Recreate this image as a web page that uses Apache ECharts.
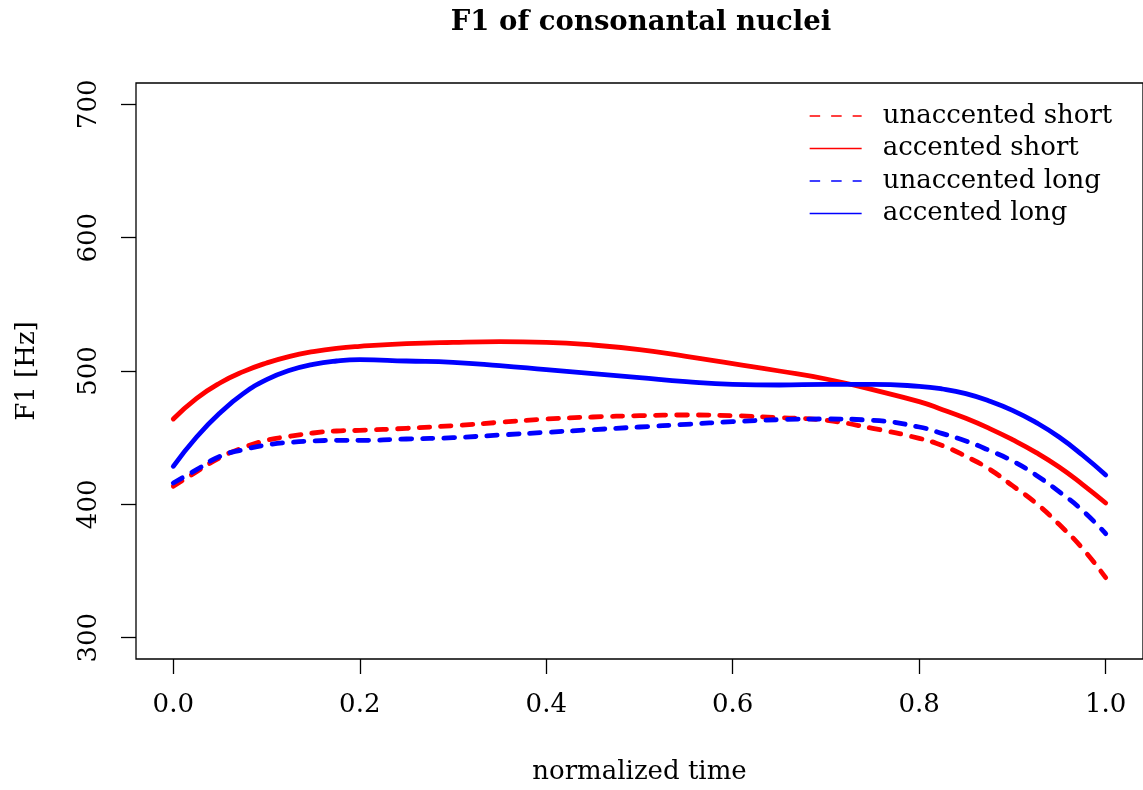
<!DOCTYPE html>
<html>
<head>
<meta charset="utf-8">
<script src="https://cdn.jsdelivr.net/npm/echarts@6/dist/echarts.min.js"></script>
<style>
  html, body { margin: 0; padding: 0; background: #fff; }
  #chart { width: 1143px; height: 790px; }
</style>
</head>
<body>
<div id="chart"></div>
<script>
// Normalized time points at which the smoothed F1 tracks are sampled
// (denser near the onset and offset, where the tracks bend most)
const timePoints = [0, 0.025, 0.05, 0.075, 0.1, 0.125, 0.15, 0.175, 0.2,
                    0.25, 0.3, 0.35, 0.4, 0.45, 0.5, 0.55, 0.6, 0.65, 0.7,
                    0.75, 0.8, 0.825, 0.85, 0.875, 0.9, 0.925, 0.95, 0.975, 1.0];

// F1 (Hz) per condition
const unaccentedShort = [413.5, 424.5, 435, 442.5, 448, 451, 453.5, 455, 455.5,
                         457, 459, 461.5, 464, 465.5, 466.5, 467, 466.5, 465, 463,
                         457, 449.5, 444, 436, 426.5, 414, 401, 385, 367, 345];
const accentedShort   = [464, 479.5, 491, 499.5, 506, 511, 514.5, 517, 518.5,
                         520.5, 521.5, 522, 521.5, 519.5, 516, 511, 505.5, 500, 494,
                         486, 477, 471, 464.5, 457, 448.5, 439, 428, 415, 401];
const unaccentedLong  = [416, 426, 436, 441, 444.5, 446.5, 447.5, 448, 448,
                         449, 450, 452, 454, 456, 458, 460, 462, 463.5, 464,
                         463, 458, 453, 447.5, 440.5, 432.5, 422, 409.5, 395.5, 378];
const accentedLong    = [428.5, 450.5, 468.5, 483, 493.5, 500.5, 505, 507.5, 508.5,
                         507.5, 506.5, 504, 501, 498, 495, 492, 490, 489.5, 490,
                         490, 488.5, 486.5, 483, 477.5, 470.5, 461.5, 450.5, 437, 422];

// Axis tick positions
const xTicks = [0, 0.2, 0.4, 0.6, 0.8, 1.0];
const yTicks = [300, 400, 500, 600, 700];

const FONT = 'DejaVu Serif';
const RED = '#ff0000';
const BLUE = '#0000ff';
const LINE_W = 4.8;
const DASH = [10.5, 11];

function pairs(ys) {
  return timePoints.map((t, i) => [t, ys[i]]);
}

function makeSeries(name, ys, color, dashed) {
  return {
    name: name,
    type: 'line',
    data: pairs(ys),
    smooth: 0.5,
    symbol: 'none',
    animation: false,
    lineStyle: {
      color: color,
      width: LINE_W,
      type: dashed ? DASH : 'solid',
      cap: 'round',
      join: 'round'
    },
    itemStyle: { color: color }
  };
}

const chart = echarts.init(document.getElementById('chart'), null, { renderer: 'canvas' });

chart.setOption({
  backgroundColor: '#ffffff',
  animation: false,
  title: {
    text: 'F1 of consonantal nuclei',
    left: 636,
    top: 4,
    textAlign: 'center',
    textStyle: { fontFamily: FONT, fontSize: 27.5, fontWeight: 'bold', color: '#000' }
  },
  legend: {
    orient: 'vertical',
    left: 804,
    top: 96,
    itemWidth: 52,
    itemHeight: 14,
    itemGap: 2.5,
    textStyle: { fontFamily: FONT, fontSize: 26, color: '#000', lineHeight: 30, padding: [0, 0, 0, 16] },
    lineStyle: { width: 1.3, cap: 'butt' },
    itemStyle: { opacity: 0 },
    data: ['unaccented short', 'accented short', 'unaccented long', 'accented long']
  },
  grid: {
    left: 136,
    top: 83,
    width: 1008,
    height: 577,
    show: true,
    borderColor: '#000',
    borderWidth: 1.3,
    backgroundColor: 'transparent'
  },
  xAxis: {
    type: 'value',
    min: -0.04,
    max: 1.04,
    name: 'normalized time',
    nameLocation: 'middle',
    nameGap: 100,
    nameTextStyle: { fontFamily: FONT, fontSize: 26, color: '#000' },
    axisLine: { show: false, onZero: false },
    splitLine: { show: false },
    axisTick: { show: true, customValues: xTicks, length: 15, lineStyle: { color: '#000', width: 1.3 } },
    axisLabel: {
      customValues: xTicks,
      margin: 33,
      fontFamily: FONT,
      fontSize: 26,
      color: '#000',
      formatter: v => v.toFixed(1)
    }
  },
  yAxis: {
    type: 'value',
    min: 284,
    max: 716,
    name: 'F1 [Hz]',
    nameLocation: 'middle',
    nameGap: 96,
    nameTextStyle: { fontFamily: FONT, fontSize: 26, color: '#000' },
    axisLine: { show: false, onZero: false },
    splitLine: { show: false },
    axisTick: { show: true, customValues: yTicks, length: 15, lineStyle: { color: '#000', width: 1.3 } },
    axisLabel: {
      customValues: yTicks,
      rotate: 90,
      margin: 34,
      fontFamily: FONT,
      fontSize: 26,
      color: '#000'
    }
  },
  series: [
    makeSeries('unaccented short', unaccentedShort, RED, true),
    makeSeries('accented short', accentedShort, RED, false),
    makeSeries('unaccented long', unaccentedLong, BLUE, true),
    makeSeries('accented long', accentedLong, BLUE, false)
  ]
});
</script>
</body>
</html>
